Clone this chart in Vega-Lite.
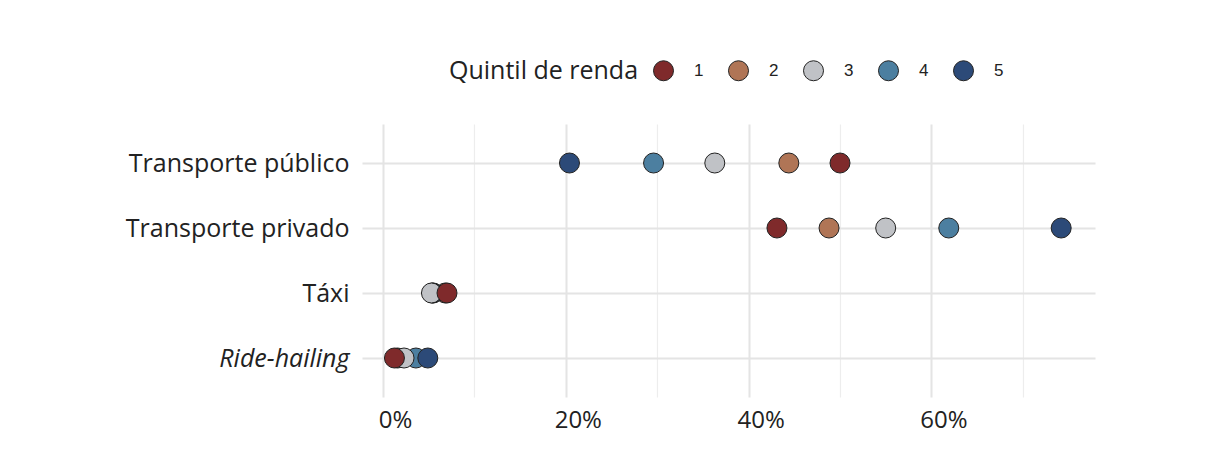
{
  "$schema": "https://vega.github.io/schema/vega-lite/v6.json",
  "width": 733,
  "height": 273,
  "autosize": {"type": "none"},
  "padding": {"left": 362, "top": 124, "right": 114, "bottom": 66},
  "background": "white",
  "config": {
    "view": {"stroke": null},
    "font": "Open Sans"
  },
  "data": {
    "values": [
      {"modo": "Transporte público", "quintil": "2", "valor": 0.444},
      {"modo": "Transporte público", "quintil": "4", "valor": 0.296},
      {"modo": "Transporte público", "quintil": "3", "valor": 0.363},
      {"modo": "Transporte público", "quintil": "5", "valor": 0.204},
      {"modo": "Transporte público", "quintil": "1", "valor": 0.500},
      {"modo": "Transporte privado", "quintil": "2", "valor": 0.488},
      {"modo": "Transporte privado", "quintil": "4", "valor": 0.619},
      {"modo": "Transporte privado", "quintil": "3", "valor": 0.550},
      {"modo": "Transporte privado", "quintil": "5", "valor": 0.742},
      {"modo": "Transporte privado", "quintil": "1", "valor": 0.431},
      {"modo": "Táxi", "quintil": "2", "valor": 0.068},
      {"modo": "Táxi", "quintil": "4", "valor": 0.055},
      {"modo": "Táxi", "quintil": "5", "valor": 0.054},
      {"modo": "Táxi", "quintil": "3", "valor": 0.053},
      {"modo": "Táxi", "quintil": "1", "valor": 0.070},
      {"modo": "Ride-hailing", "quintil": "2", "valor": 0.016},
      {"modo": "Ride-hailing", "quintil": "4", "valor": 0.036},
      {"modo": "Ride-hailing", "quintil": "3", "valor": 0.023},
      {"modo": "Ride-hailing", "quintil": "5", "valor": 0.049},
      {"modo": "Ride-hailing", "quintil": "1", "valor": 0.0125}
    ]
  },
  "mark": {"type": "point", "filled": true, "size": 400, "stroke": "#222222", "strokeWidth": 1, "opacity": 1},
  "encoding": {
    "x": {
      "field": "valor",
      "type": "quantitative",
      "scale": {"domain": [-0.023, 0.779], "nice": false, "zero": false},
      "axis": {
        "title": null,
        "values": [0, 0.1, 0.2, 0.3, 0.4, 0.5, 0.6, 0.7],
        "labelExpr": "round(datum.value*100) % 20 === 0 ? format(datum.value, '.0%') : ''",
        "labelFontSize": 24,
        "labelColor": "#222222",
        "labelPadding": 11,
        "labelOffset": 12,
        "labelFont": "Open Sans",
        "domain": false,
        "ticks": false,
        "grid": true,
        "gridColor": {"condition": {"test": "round(datum.value*100) % 20 === 0", "value": "#e4e4e4"}, "value": "#ededed"},
        "gridWidth": {"condition": {"test": "round(datum.value*100) % 20 === 0", "value": 2}, "value": 1.2}
      }
    },
    "y": {
      "field": "modo",
      "type": "nominal",
      "sort": ["Transporte público", "Transporte privado", "Táxi", "Ride-hailing"],
      "scale": {"type": "point", "padding": 0.6},
      "axis": {
        "title": null,
        "labelFontSize": 25,
        "labelLimit": 500,
        "labelColor": "#222222",
        "labelPadding": 13,
        "labelFont": "Open Sans",
        "labelFontStyle": {"condition": {"test": "datum.value === 'Ride-hailing'", "value": "italic"}, "value": "normal"},
        "domain": false,
        "ticks": false,
        "grid": true,
        "gridColor": "#e4e4e4",
        "gridWidth": 2
      }
    },
    "color": {
      "field": "quintil",
      "type": "nominal",
      "scale": {"domain": ["1", "2", "3", "4", "5"], "range": ["#7f2a2b", "#b07556", "#c0c2c6", "#4c7fa0", "#2c4a78"]},
      "legend": {
        "title": "Quintil de renda",
        "orient": "none",
        "legendX": 87,
        "legendY": -64,
        "direction": "horizontal",
        "columns": 5,
        "titleOrient": "left",
        "titleFontSize": 25,
        "titleLimit": 500,
        "titleFontWeight": "normal",
        "titleColor": "#222222",
        "titleFont": "Open Sans",
        "titlePadding": 14,
        "titleBaseline": "middle",
        "labelFontSize": 17,
        "labelColor": "#222222",
        "labelFont": "Liberation Sans",
        "labelOffset": 20,
        "columnPadding": 22,
        "symbolType": "circle",
        "symbolSize": 400,
        "symbolStrokeColor": "#222222",
        "symbolStrokeWidth": 1,
        "symbolOpacity": 1
      }
    }
  }
}
